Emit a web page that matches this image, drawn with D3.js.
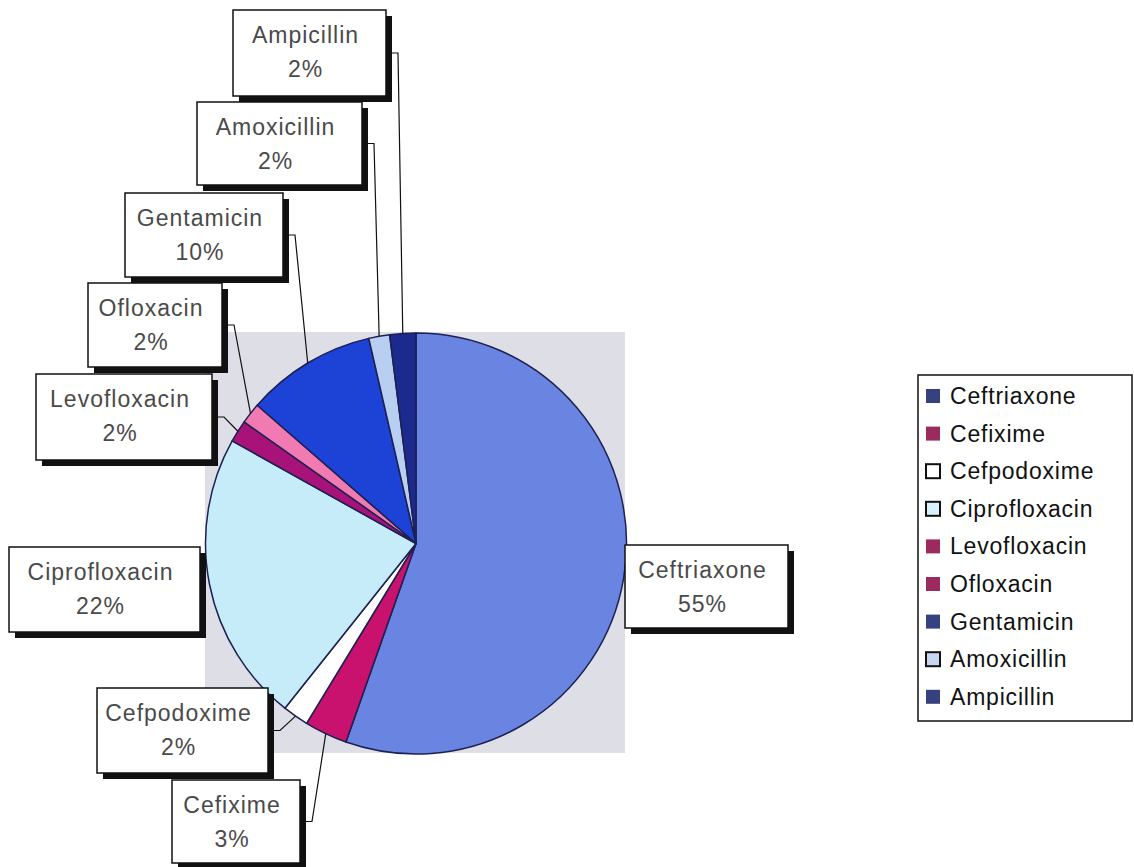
<!DOCTYPE html>
<html>
<head>
<meta charset="utf-8">
<script src="https://cdn.jsdelivr.net/npm/d3@7/dist/d3.min.js"></script>
<style>
  html, body { margin: 0; padding: 0; background: #ffffff; }
  svg { display: block; font-family: "Liberation Sans", Arial, sans-serif; }
</style>
</head>
<body>
<svg id="chart" width="1134" height="867"></svg>
<script>
// ---- data ----
const categories = ["Ceftriaxone","Cefixime","Cefpodoxime","Ciprofloxacin","Levofloxacin","Ofloxacin","Gentamicin","Amoxicillin","Ampicillin"];
const values = [55.4, 3.3, 2.0, 22.4, 1.7, 1.6, 10.0, 1.6, 2.0];
const sliceColors = ["#6a84e2","#c8126e","#ffffff","#c6ecfa","#a8137a","#f27ab2","#1c42d6","#b9cff2","#1c2a8e"];
const legendColors = ["#36427f","#9b2b5e","#ffffff","#d8f1fb","#9b2b5e","#9b2b5e","#36427f","#c9d6f2","#36427f"];
const legendBordered = [false,false,true,true,false,false,false,true,false];
// label boxes (layout): [left, top, width, height]
const labelBoxes = [
  [625,545,163,83],
  [172,780,128,83],
  [97,688,171,85],
  [9,547,191,85],
  [36,374,176,86],
  [88,283,134,84],
  [125,193,158,84],
  [197,102,165,83],
  [233,10,153,86]
];
const hasLeader = [false,true,true,false,true,true,true,true,true];

const svg = d3.select("#chart");
const cx = 416, cy = 543.5, r = 210.5;

// plot area background
svg.append("rect").attr("x",205).attr("y",332).attr("width",420).attr("height",421)
  .attr("fill","#dedee6");

const pie = d3.pie().sort(null).value(d => d)(values);
const arc = d3.arc().innerRadius(0).outerRadius(r);
const g = svg.append("g").attr("transform",`translate(${cx},${cy})`);
g.selectAll("path").data(pie).join("path")
  .attr("d", arc)
  .attr("fill", (d,i) => sliceColors[i])
  .attr("stroke", "#1d2052")
  .attr("stroke-width", 1.5)
  .attr("stroke-linejoin","round");

// leader lines
pie.forEach((d,i) => {
  if (!hasLeader[i]) return;
  const a = (d.startAngle + d.endAngle)/2;
  const px = cx + r*Math.sin(a), py = cy - r*Math.cos(a);
  const [bl,bt,bw,bh] = labelBoxes[i];
  const sx = bl + bw + 6, sy = bt + bh/2;
  svg.append("path")
    .attr("d", `M${sx},${sy} L${sx+6},${sy} L${px},${py}`)
    .attr("fill","none").attr("stroke","#111").attr("stroke-width",1.2);
});

// label boxes
pie.forEach((d,i) => {
  const [bl,bt,bw,bh] = labelBoxes[i];
  const lg = svg.append("g");
  lg.append("rect").attr("x",bl+6).attr("y",bt+6).attr("width",bw).attr("height",bh).attr("fill","#111");
  lg.append("rect").attr("x",bl).attr("y",bt).attr("width",bw).attr("height",bh)
    .attr("fill","#fff").attr("stroke","#111").attr("stroke-width",1.5);
  const tx = bl + bw/2 - 4;
  lg.append("text").attr("x",tx).attr("y",bt+33).attr("text-anchor","middle")
    .attr("font-size",23).attr("letter-spacing",1).attr("fill","#4a4a4a").text(categories[i]);
  lg.append("text").attr("x",tx).attr("y",bt+67).attr("text-anchor","middle")
    .attr("font-size",23).attr("letter-spacing",1).attr("fill","#4a4a4a").text(Math.round(values[i]) + "%");
});

// legend
const lx = 918, ly = 375, lw = 214, step = 37.6;
svg.append("rect").attr("x",lx).attr("y",ly).attr("width",lw).attr("height",346)
  .attr("fill","#fff").attr("stroke","#111").attr("stroke-width",1.5);
categories.forEach((c,i) => {
  const yc = ly + 21 + i*step;
  svg.append("rect").attr("x",lx+8).attr("y",yc-7).attr("width",14).attr("height",14)
    .attr("fill",legendColors[i])
    .attr("stroke", legendBordered[i] ? "#111" : "none")
    .attr("stroke-width", legendBordered[i] ? 2 : 0);
  svg.append("text").attr("x",lx+32).attr("y",yc+8).attr("font-size",23).attr("letter-spacing",0.8)
    .attr("fill","#111").text(c);
});
</script>
</body>
</html>
